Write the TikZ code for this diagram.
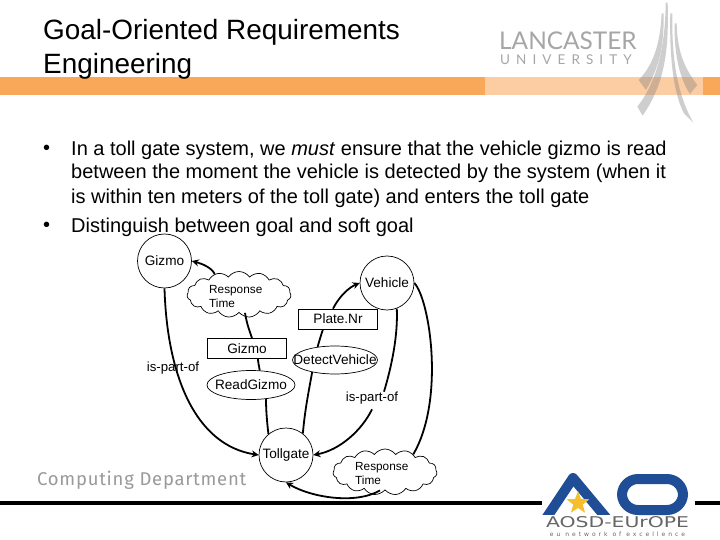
\documentclass[tikz,border=0pt]{standalone}
\usepackage{fontspec}
\usepackage{graphicx}
\setmainfont{Liberation Sans}
\newfontfamily\compfont[LetterSpace=4]{Fira Sans}
\newfontfamily\lancfont{Lato}
\newfontfamily\unifont[LetterSpace=45]{Lato}
\newfontfamily\aofont{DejaVu Sans}
\newfontfamily\subfont[LetterSpace=50]{DejaVu Sans}
\usetikzlibrary{shapes.geometric,shapes.symbols,arrows.meta}
\definecolor{barorange}{HTML}{F9A759}
\definecolor{barlight}{HTML}{FCCDA3}
\definecolor{aoblue}{HTML}{1F4E96}
\definecolor{aogold}{HTML}{F4BE2C}
\definecolor{greytext}{HTML}{9A9A9A}
\tikzset{
  titletext/.style={anchor=west,inner sep=0,font=\fontsize{27.9}{28}\selectfont},
  bodytext/.style={anchor=west,inner sep=0,font=\fontsize{20}{20}\selectfont},
  goalnode/.style={circle,draw,line width=.7pt,minimum size=54pt,inner sep=0,font=\fontsize{13.6}{14}\selectfont},
  softnode/.style={cloud,draw,line width=.7pt,cloud puffs=15,cloud puff arc=110,aspect=2.4,cloud ignores aspect,minimum width=104pt,minimum height=46pt,inner sep=0},
  softtext/.style={align=left,inner sep=0,font=\fontsize{11.8}{14}\selectfont},
  resnode/.style={rectangle,draw,line width=.7pt,minimum width=79pt,minimum height=20pt,inner sep=0,font=\fontsize{13.6}{14}\selectfont},
  tasknode/.style={ellipse,draw,line width=.7pt,minimum width=88pt,minimum height=29pt,inner sep=0},
  tasktext/.style={inner sep=0,font=\fontsize{13.6}{14}\selectfont},
  labeltext/.style={inner sep=0,font=\fontsize{13.2}{14}\selectfont},
  link/.style={line width=1.8pt},
  linkto/.style={line width=1.8pt,-{Stealth[length=7pt,width=7pt]}},
  trident/.style={fill=black!50,fill opacity=.38,draw=none}
}
\begin{document}
\begin{tikzpicture}[x=1pt,y=-1pt]
\useasboundingbox (0,0) rectangle (720,540);
\fill[white] (0,0) rectangle (720,540);
% header bar
\fill[barorange] (0,77) rectangle (720,95);
\fill[barlight] (485,77) rectangle (703,95);
% trident
\begin{scope}[shift={(480,0)},x=.3333pt,y=-.3333pt]
\fill[trident] (545,40) -- (551,40) .. controls (552,120) and (545,190) .. (498,270) -- (476,240) .. controls (525,190) and (541,120) .. cycle;
\fill[trident] (557,8) -- (563,8) .. controls (567,150) and (555,250) .. (488,347) -- (472,320) .. controls (535,240) and (556,130) .. cycle;
\fill[trident] (571,40) -- (577,40) .. controls (575,170) and (590,280) .. (640,368) -- (612,340) .. controls (580,280) and (568,170) .. cycle;
\fill[trident] (584,70) -- (590,70) .. controls (592,150) and (610,200) .. (652,255) -- (630,282) .. controls (595,230) and (582,150) .. cycle;
\end{scope}
% header text
\node[titletext] (t1) at (43,32) {Goal-Oriented Requirements};
\node[titletext] (t2) at (43,66) {Engineering};
\node[inner sep=0,anchor=west,text=black!35,font=\lancfont\fontsize{24.4}{26}\selectfont] (lanc) at (499,41) {LANCASTER};
\node[inner sep=0,anchor=west,text=black!35,font=\unifont\fontsize{13.5}{14}\selectfont] (uni) at (500,60) {UNIVERSITY};
% body
\node[bodytext] (b0) at (43,150) {•};
\node[bodytext] (b1) at (71,150) {In a toll gate system, we \emph{must} ensure that the vehicle gizmo is read};
\node[bodytext] (b2) at (71,173.5) {between the moment the vehicle is detected by the system (when it};
\node[bodytext] (b3) at (71,198) {is within ten meters of the toll gate) and enters the toll gate};
\node[bodytext] (b4) at (43,227) {•};
\node[bodytext] (b5) at (71,227) {Distinguish between goal and soft goal};
% bottom line
\fill[black] (0,501) rectangle (542,505);
\fill[black] (695,501) rectangle (720,505);
\node[inner sep=0,anchor=west,text=greytext,font=\compfont\fontsize{18.5}{19}\selectfont] (cd) at (37,480) {Computing Department};
% AO logo
\draw[aoblue,line width=10pt,line join=round] (545,520) -- (573,478) -- (608,520);
\fill[white] (535,515) rectangle (617,532);
\draw[aoblue,line width=10pt,rounded corners=16pt] (622,479) rectangle (683,510);
\node[star,star points=5,star point ratio=2.4,fill=aogold,minimum size=24pt,inner sep=0] (aostar) at (578,503) {};
\node[inner sep=0,text=black!60,font=\aofont] (ao) at (617.5,522.5) {\resizebox{143pt}{11pt}{AOSD-EUrOPE}};
\node[inner sep=0,text=black!60,font=\subfont\fontsize{6}{6}\selectfont] (aosub) at (617.5,534) {eu network of excellence};
% goal model nodes
\node[goalnode] (gizmo) at (164.5,261) {Gizmo};
\node[goalnode] (vehicle) at (387,283) {Vehicle};
\node[goalnode] (tollgate) at (286,455) {Tollgate};
\node[softnode] (rt1) at (239,294.5) {};
\node[softtext,anchor=west] (rt1t) at (209,296.5) {Response\\Time};
\node[softnode] (rt2) at (385,472) {};
\node[softtext,anchor=west] (rt2t) at (355,473) {Response\\Time};
\node[resnode] (gr) at (247,348.5) {Gizmo};
\node[resnode] (pr) at (338,319) {Plate.Nr};
\node[tasknode] (rg) at (251,385) {};
\node[tasktext] (rgt) at (251,385) {ReadGizmo};
\node[tasknode,minimum width=85pt,minimum height=28pt] (dv) at (335,360) {};
\node[tasktext] (dvt) at (335,360) {DetectVehicle};
\node[labeltext] (ip1) at (173,368) {is-part-of};
\node[labeltext] (ip2) at (372,398) {is-part-of};
% connectors
\draw[linkto] (rt1.140) .. controls (212,268) and (203,264) .. (gizmo.east);
\draw[link] ([xshift=6pt]rt1.south) .. controls (247,325) and (250,332) .. ([xshift=5pt]gr.north);
\draw[link] ([xshift=11pt]gr.south) .. controls (258,362) and (259,366) .. (rg.59);
\draw[link] (rg.317) .. controls (266,410) and (267,422) .. (tollgate.130);
\draw[linkto] (gizmo.south) .. controls (167,375) and (195,445) .. (tollgate.west);
\draw[link] (tollgate.52) .. controls (305,410) and (308,395) .. (dv.208);
\draw[link] (dv.143) .. controls (319,342) and (321,335) .. ([xshift=-15pt]pr.south);
\draw[linkto] ([xshift=-5pt]pr.north) .. controls (340,295) and (350,287) .. (vehicle.west);
\draw[link] (vehicle.291) .. controls (398,335) and (392,365) .. ([xshift=12pt]ip2.north);
\draw[linkto] ([yshift=-5pt]ip2.south) .. controls (362,430) and (340,450) .. (tollgate.east);
\draw[link] (vehicle.east) .. controls (430,300) and (445,400) .. (rt2.32);
\draw[linkto] ([xshift=-5pt]rt2.south) .. controls (355,505) and (310,497) .. (tollgate.south);
\end{tikzpicture}
\end{document}
